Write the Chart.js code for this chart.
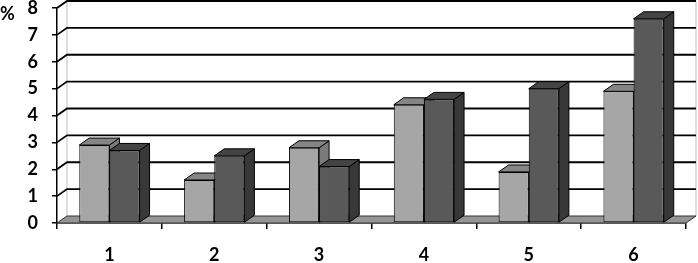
<!DOCTYPE html>
<html>
<head>
<meta charset="utf-8">
<script src="https://cdn.jsdelivr.net/npm/chart.js@4"></script>
<style>
html,body{margin:0;padding:0;background:#fff;}
#wrap{width:698px;height:263px;}
</style>
</head>
<body>
<div id="wrap"><canvas id="c" width="698" height="263"></canvas></div>
<script>
const categories = ['1', '2', '3', '4', '5', '6'];
const seriesLight = [2.9, 1.6, 2.8, 4.4, 1.9, 4.9];
const seriesDark = [2.7, 2.5, 2.1, 4.6, 5.0, 7.6];
const yTickValues = [0, 1, 2, 3, 4, 5, 6, 7, 8];
const unitLabel = '%';

const DX = 10, DY = -7;
const faceColors = [
  {front: '#a6a6a6', top: '#858585', side: '#7a7a7a'},
  {front: '#595959', top: '#444444', side: '#383838'}
];

function poly(ctx, pts, fill, stroke, lw) {
  ctx.beginPath();
  ctx.moveTo(pts[0][0], pts[0][1]);
  for (let i = 1; i < pts.length; i++) ctx.lineTo(pts[i][0], pts[i][1]);
  ctx.closePath();
  if (fill) { ctx.fillStyle = fill; ctx.fill(); }
  if (stroke) { ctx.strokeStyle = stroke; ctx.lineWidth = lw || 1; ctx.stroke(); }
}

const threeD = {
  id: 'threeD',
  beforeDatasetsDraw(chart) {
    const ctx = chart.ctx;
    const {left, right, bottom} = chart.chartArea;
    const y = chart.scales.y;
    ctx.save();
    const topY = y.getPixelForValue(yTickValues[yTickValues.length - 1]);
    ctx.strokeStyle = '#bdbdbd';
    ctx.lineWidth = 1;
    ctx.beginPath();
    ctx.moveTo(left + DX, topY + DY); ctx.lineTo(left + DX, bottom + DY);
    ctx.moveTo(right + DX, topY + DY); ctx.lineTo(right + DX, bottom + DY);
    ctx.stroke();
    ctx.strokeStyle = '#000';
    ctx.lineWidth = 1.8;
    yTickValues.forEach(v => {
      if (v === 0) return;
      const yy = y.getPixelForValue(v);
      ctx.beginPath();
      ctx.moveTo(left, yy);
      ctx.lineTo(left + DX, yy + DY);
      ctx.lineTo(right + DX, yy + DY);
      ctx.stroke();
    });
    const y0 = y.getPixelForValue(0);
    poly(ctx, [[left, y0], [right, y0], [right + DX, y0 + DY], [left + DX, y0 + DY]], '#959595', '#333', 1);
    const n = chart.data.labels.length;
    for (let j = 0; j < n; j++) {
      chart.data.datasets.forEach((ds, i) => {
        const el = chart.getDatasetMeta(i).data[j];
        const l = el.x - el.width / 2, r = el.x + el.width / 2, t = el.y, b = el.base;
        const c = faceColors[i];
        poly(ctx, [[r, b], [r + DX, b + DY], [r + DX, t + DY], [r, t]], c.side, '#000', 1);
        poly(ctx, [[l, t], [r, t], [r + DX, t + DY], [l + DX, t + DY]], c.top, '#000', 1);
      });
    }
    ctx.restore();
  },
  afterDraw(chart) {
    const ctx = chart.ctx;
    ctx.save();
    ctx.fillStyle = '#000';
    ctx.font = 'bold 18px Lato';
    ctx.textBaseline = 'alphabetic';
    ctx.fillText(unitLabel, 0, 20);
    ctx.restore();
  }
};

new Chart(document.getElementById('c'), {
  type: 'bar',
  data: {
    labels: categories,
    datasets: [
      {data: seriesLight, backgroundColor: faceColors[0].front, borderColor: '#000', borderWidth: 1, borderSkipped: false},
      {data: seriesDark, backgroundColor: faceColors[1].front, borderColor: '#000', borderWidth: 1, borderSkipped: false}
    ]
  },
  options: {
    responsive: false,
    animation: false,
    events: [],
    layout: {padding: {top: 8, right: 12, left: 0, bottom: 0}},
    datasets: {bar: {categoryPercentage: 0.575, barPercentage: 1.0}},
    plugins: {legend: {display: false}, tooltip: {enabled: false}},
    scales: {
      x: {
        offset: true,
        grid: {offset: true, drawOnChartArea: false, drawTicks: true, tickLength: 6, color: '#000', lineWidth: 1.5},
        border: {display: true, color: '#000', width: 1.5},
        ticks: {font: {family: 'Lato', weight: 'bold', size: 18}, color: '#000', padding: 15},
        afterFit(s) { s.height = 40; s.paddingLeft = 0; s.paddingRight = 0; }
      },
      y: {
        min: 0, max: 8,
        afterBuildTicks(s) { s.ticks = yTickValues.map(v => ({value: v})); },
        grid: {drawOnChartArea: false, drawTicks: true, tickLength: 5, color: '#000', lineWidth: 1.5},
        border: {display: true, color: '#000', width: 1.5},
        ticks: {font: {family: 'Lato', weight: 'bold', size: 18}, color: '#000', padding: 14},
        afterFit(s) { s.width = 57; s.paddingTop = 0; s.paddingBottom = 0; }
      }
    }
  },
  plugins: [threeD]
});
</script>
</body>
</html>
